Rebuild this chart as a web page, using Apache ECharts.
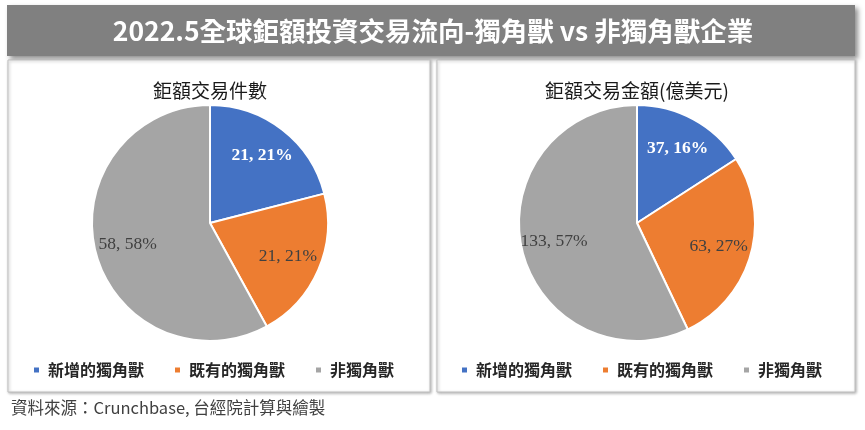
<!DOCTYPE html>
<html>
<head>
<meta charset="utf-8">
<script src="https://cdn.jsdelivr.net/npm/echarts@6/dist/echarts.min.js"></script>
<style>
html,body{margin:0;padding:0;background:#fff;}
#c{width:865px;height:430px;}
</style>
</head>
<body>
<div id="c"></div>
<script>
var mainTitle = '2022.5全球鉅額投資交易流向-獨角獸 vs 非獨角獸企業';
var leftTitle = '鉅額交易件數';
var rightTitle = '鉅額交易金額(億美元)';
var sourceText = '資料來源：Crunchbase, 台經院計算與繪製';
var categories = ['新增的獨角獸', '既有的獨角獸', '非獨角獸'];
var countValues = [21, 21, 58];
var amountValues = [37, 63, 133];
var colors = ['#4472C4', '#ED7D31', '#A5A5A5'];

function mkData(vals) {
  return categories.map(function (n, i) {
    var d = { name: n, value: vals[i] };
    if (i === 0) d.label = { color: '#ffffff', fontWeight: 'bold' };
    return d;
  });
}

var R = 118;
function pieMain(center) {
  return {
    type: 'pie', center: center, radius: [0, R], startAngle: 90, clockwise: true,
    label: { show: false }, labelLine: { show: false },
    itemStyle: { borderColor: '#fff', borderWidth: 2 },
    emphasis: { disabled: true }, silent: true
  };
}
function pieLabel(center) {
  return {
    type: 'pie', center: center, radius: [46, R], startAngle: 90, clockwise: true,
    percentPrecision: 0, silent: true, z: 5,
    itemStyle: { color: 'rgba(0,0,0,0)', borderWidth: 0 },
    emphasis: { disabled: true },
    labelLine: { show: false },
    label: {
      show: true, position: 'inside', formatter: '{c}, {d}%',
      fontFamily: 'Liberation Serif', fontSize: 17.5, color: '#404040'
    }
  };
}

var s1 = pieMain([210, 223]); s1.data = mkData(countValues);
var s2 = pieMain([637, 223]); s2.data = mkData(amountValues);
var l1 = pieLabel([210, 223]); l1.data = mkData(countValues);
var l2 = pieLabel([637, 223]); l2.data = mkData(amountValues);

function mkLegend(left) {
  return {
    left: left, top: 357, orient: 'horizontal', icon: 'rect',
    itemWidth: 7, itemHeight: 7, itemGap: 29, selectedMode: false,
    data: categories,
    textStyle: { fontFamily: 'Noto Sans CJK TC', fontSize: 16, fontWeight: 'bold', color: '#262626', padding: [0, 0, 0, 3] }
  };
}

var chart = echarts.init(document.getElementById('c'));
chart.setOption({
  animation: false,
  color: colors,
  legend: [mkLegend(27), mkLegend(455)],
  graphic: [
    { type: 'rect', z: -10, shape: { x: 7, y: 5, width: 848, height: 51 },
      style: { fill: '#808080', shadowBlur: 5, shadowColor: 'rgba(0,0,0,0.45)', shadowOffsetX: 3, shadowOffsetY: 3 } },
    { type: 'text', z: -9, style: { x: 433, y: 31, text: mainTitle, textAlign: 'center', textVerticalAlign: 'middle',
      fill: '#ffffff', font: 'bold 26.5px "Noto Sans CJK TC"' } },
    { type: 'rect', z: -10, shape: { x: 8, y: 60, width: 422, height: 332 },
      style: { fill: '#ffffff', stroke: '#bfbfbf', lineWidth: 1, shadowBlur: 3, shadowColor: 'rgba(0,0,0,0.3)', shadowOffsetX: 1, shadowOffsetY: 1 } },
    { type: 'rect', z: -10, shape: { x: 437, y: 60, width: 418, height: 332 },
      style: { fill: '#ffffff', stroke: '#bfbfbf', lineWidth: 1, shadowBlur: 3, shadowColor: 'rgba(0,0,0,0.3)', shadowOffsetX: 1, shadowOffsetY: 1 } },
    { type: 'text', z: 1, style: { x: 210, y: 91, text: leftTitle, textAlign: 'center', textVerticalAlign: 'middle',
      fill: '#1a1a1a', font: '19px "Noto Sans CJK TC"' } },
    { type: 'text', z: 1, style: { x: 637, y: 91, text: rightTitle, textAlign: 'center', textVerticalAlign: 'middle',
      fill: '#1a1a1a', font: '19px "Noto Sans CJK TC"' } },
    { type: 'text', z: 1, style: { x: 11, y: 408, text: sourceText, textAlign: 'left', textVerticalAlign: 'middle',
      fill: '#404040', font: '16.5px "Noto Sans CJK TC"' } }
  ],
  series: [s1, s2, l1, l2]
});
</script>
</body>
</html>
